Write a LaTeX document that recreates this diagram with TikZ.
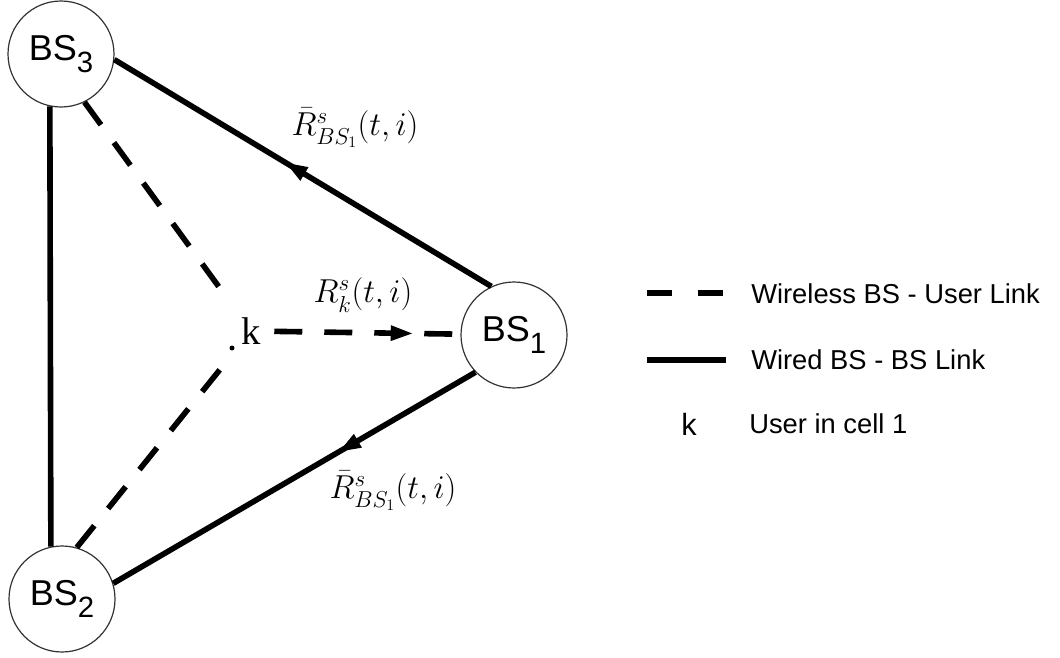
\documentclass[tikz,border=0pt]{standalone}
\usepackage{tikz, xcolor}
\usepackage{amsmath}
\usepackage{fontspec}
\setmainfont{Liberation Serif}
\setsansfont{Liberation Sans}
\usetikzlibrary{decorations.markings}
\newcommand{\pixsize}{0.75pt}
\newcommand{\bsindex}[1]{\raisebox{-9pt}{\fontsize{22}{24}\selectfont #1}}

\begin{document}
\begin{tikzpicture}
\useasboundingbox (0*\pixsize,0*\pixsize) rectangle (1060*\pixsize,-657*\pixsize);
\tikzstyle{station}=[draw=black!80,
                     circle,
                     fill=white,
                     minimum size=106*\pixsize,
                     inner sep=0pt,
                     line width=0.9pt,
                     font=\sffamily\fontsize{27}{30}\selectfont
                     ]
\tikzstyle{wired}=[line width=4.2pt]
\tikzstyle{wireless}=[line width=4.2pt, dash pattern=on 21pt off 16.5pt]
\tikzstyle{ratelabel}=[inner sep=0pt, font=\fontsize{24}{27}\selectfont]
\tikzstyle{legendtext}=[anchor=west, inner sep=0pt, font=\sffamily\fontsize{20.5}{24}\selectfont]
\tikzset{midarrow/.style={postaction={decorate},
  decoration={markings, mark=at position #1 with {\fill (8pt,0pt) -- (-8pt,6pt) -- (-8pt,-6pt) -- cycle;}}}}
% base stations and the user
\node[station] (BS3) at (61*\pixsize,-54*\pixsize) {BS\bsindex{3}};
\node[station] (BS2) at (62*\pixsize,-599*\pixsize) {BS\bsindex{2}};
\node[station] (BS1) at (514*\pixsize,-335*\pixsize) {BS\bsindex{1}};
\node[inner sep=2pt, font=\rmfamily\fontsize{29}{32}\selectfont] (k) at (251*\pixsize,-331*\pixsize) {k};
\node[circle, fill, inner sep=0pt, minimum size=5*\pixsize] (dot) at (232*\pixsize,-348*\pixsize) {};
% wired links
\draw[wired] (BS3.-102) -- (BS2.102);
\draw[wired, midarrow=0.52] (BS1.115) -- (BS3.-6);
\draw[wired, midarrow=0.35] (BS1.-136) -- (BS2.17);
% wireless links
\draw[wireless, shorten >=12pt] (BS3.-64) -- (k);
\draw[wireless, shorten >=9pt] (BS2.74) -- (k);
\draw[wireless, midarrow=0.7, shorten <=8pt] (k) -- (BS1);
% rates
\node[ratelabel] (upperrate) at (355*\pixsize,-128*\pixsize) {$\bar{R}^{s}_{BS_1}(t,i)$};
\node[ratelabel] (userrate) at (363*\pixsize,-295*\pixsize) {$R^{s}_{k}(t,i)$};
\node[ratelabel] (lowerrate) at (393*\pixsize,-491*\pixsize) {$\bar{R}^{s}_{BS_1}(t,i)$};
% legend
\coordinate (dashA) at (647*\pixsize,-293*\pixsize);
\coordinate (dashB) at (725*\pixsize,-293*\pixsize);
\coordinate (solidA) at (647*\pixsize,-360*\pixsize);
\coordinate (solidB) at (726*\pixsize,-360*\pixsize);
\draw[line width=4.2pt, dash pattern=on 19pt off 19pt] (dashA) -- (dashB);
\draw[wired] (solidA) -- (solidB);
\node[inner sep=0pt, font=\sffamily\fontsize{23}{26}\selectfont] (legk) at (689*\pixsize,-424*\pixsize) {k};
\node[legendtext] (wirelesstext) at (751*\pixsize,-294*\pixsize) {Wireless BS - User Link};
\node[legendtext] (wiredtext) at (751*\pixsize,-360*\pixsize) {Wired BS - BS Link};
\node[legendtext] (usertext) at (749*\pixsize,-424*\pixsize) {User in cell 1};
\end{tikzpicture}
\end{document}
